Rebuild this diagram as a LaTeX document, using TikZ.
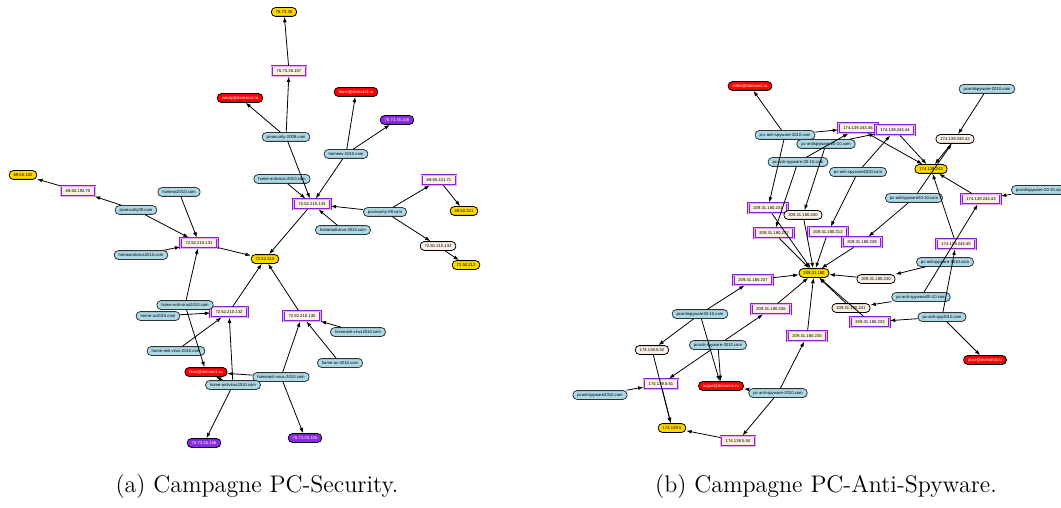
\documentclass[tikz,border=0pt]{standalone}
\usepackage{fontspec}
\newfontfamily\nodefont{Liberation Sans}
\usetikzlibrary{arrows.meta}
\definecolor{gold}{HTML}{FFD700}
\definecolor{lblue}{HTML}{ADD8E6}
\definecolor{violetx}{HTML}{8A2BE2}
\definecolor{linenx}{HTML}{FAF0E6}
\definecolor{purp}{HTML}{A020F0}
\tikzset{
  base/.style={font=\nodefont\fontsize{2.1}{2.5}\selectfont, inner xsep=2.2pt, inner ysep=0pt, minimum height=4.4pt, line width=0.4pt},
  ynode/.style={base, rounded corners=2pt, draw=black, fill=gold},
  dnode/.style={base, rounded corners=2pt, draw=black!80, fill=lblue},
  rnode/.style={base, rounded corners=2pt, draw=black, fill=red, text=white},
  vnode/.style={base, rounded corners=2pt, draw=black, fill=violetx, text=white},
  bnode/.style={base, rounded corners=2pt, draw=black, fill=linenx},
  pnode/.style={base, draw=purp!90!black, double=purp!35, double distance=0.45pt, line width=0.45pt, fill=linenx, minimum height=5pt, inner xsep=2.4pt},
  conn/.style={-{Latex[length=2.7pt,width=1.9pt]}, line width=0.4pt},
  capt/.style={font=\fontsize{12}{14}\selectfont}
}
\begin{document}
\begin{tikzpicture}[x=0.5pt,y=-0.5pt]
\useasboundingbox (0,0) rectangle (1061,508);
\clip (0,0) rectangle (1061,508);
% ---------------- left graph ----------------
\node[ynode] (n76) at (284,12) {76.73.35};
\node[ynode] (n69a) at (23,175) {69.50.192};
\node[ynode] (n72) at (265,259) {72.52.210};
\node[ynode] (n69b) at (464,211) {69.50.221};
\node[ynode] (n72b) at (466,265) {72.50.212};
\node[pnode] (p157) at (289,71) {76.73.35.157};
\node[pnode] (p70) at (78,191) {69.50.192.70};
\node[pnode] (p131) at (199,243) {72.52.210.131};
\node[pnode] (p133) at (312,204) {72.52.210.133};
\node[pnode] (p71) at (439,180) {69.50.221.71};
\node[pnode] (p132) at (229,312) {72.52.210.132};
\node[pnode] (p130) at (302,316) {72.52.210.130};
\node[bnode] (b133) at (438,246) {72.50.210.133};
\node[rnode] (candy) at (240,98) {candy@domain2.ru};
\node[rnode] (fours) at (356,92) {fours@domain3.ru};
\node[rnode] (blair) at (206,372) {blair@domain1.ru};
\node[vnode] (v158) at (397,120) {76.73.35.158};
\node[vnode] (v156) at (204,443) {76.73.35.156};
\node[vnode] (v155) at (305,438) {76.73.35.155};
\node[dnode] (d1) at (286,137) {pcsecurity-2009.com};
\node[dnode] (d2) at (346,154) {homeav-2010.com};
\node[dnode] (d3) at (282,179) {home-antivirus-2010.com};
\node[dnode] (d4) at (385,212) {pcsecurity-09.com};
\node[dnode] (d5) at (343,230) {homeantivirus-2010.com};
\node[dnode] (d6) at (179,192) {homeav2010.com};
\node[dnode] (d7) at (136,210) {pcsecurity09.com};
\node[dnode] (d8) at (141,255) {homeantivirus2010.com};
\node[dnode] (d9) at (185,305) {home-anti-virus2010.com};
\node[dnode] (d10) at (158,316) {home-av2010.com};
\node[dnode] (d11) at (176,351) {home-anti-virus-2010.com};
\node[dnode] (d12) at (358,332) {homeanti-virus2010.com};
\node[dnode] (d13) at (340,363) {home-av-2010.com};
\node[dnode] (d14) at (281,377) {homeanti-virus-2010.com};
\node[dnode] (d15) at (233,385) {home-antivirus2010.com};
\foreach \a/\b in {p157/n76,d1/p157,d1/candy,d1/p133,d2/fours,d2/v158,d2/p133,d3/p133,d4/p133,d4/p71,d4/b133,d5/p133,p133/n72,p71/n69b,b133/n72b,d7/p70,p70/n69a,d7/p131,d6/p131,d8/p131,p131/n72,d9/p131,d9/blair,d10/p132,d11/p132,p132/n72,d15/p132,d15/v156,d15/blair,d14/blair,d14/p130,d14/v155,d12/p130,d13/p130,p130/n72}
  \draw[conn] (\a) -- (\b);
% ---------------- right graph ----------------
\node[ynode] (y243) at (931,169) {174.139.243};
\node[ynode] (y209) at (814,273) {209.31.180};
\node[ynode] (y5) at (672,428) {174.139.5};
\node[rnode] (stiles) at (750,86) {stiles@domain2.ru};
\node[rnode] (argue) at (721,386) {argue@domain1.ru};
\node[rnode] (pixie) at (985,360) {pixie@domain3.ru};
\node[pnode] (q46) at (858,128) {174.139.243.46};
\node[pnode] (q44) at (895,130) {174.139.243.44};
\node[pnode] (q43) at (981,199) {174.139.243.43};
\node[pnode] (q45) at (956,244) {174.139.243.45};
\node[pnode] (q231) at (768,208) {209.31.180.231};
\node[pnode] (q242) at (774,233) {209.31.180.242};
\node[pnode] (q212) at (828,232) {209.31.180.212};
\node[pnode] (q238) at (862,242) {209.31.180.238};
\node[pnode] (q237) at (753,280) {209.31.180.237};
\node[pnode] (q236) at (771,309) {209.31.180.236};
\node[pnode] (q235) at (807,336) {209.31.180.235};
\node[pnode] (q233) at (870,322) {209.31.180.233};
\node[pnode] (q51) at (661,384) {174.139.5.51};
\node[pnode] (q50) at (738,441) {174.139.5.50};
\node[bnode] (c42) at (955,139) {174.139.243.42};
\node[bnode] (c240) at (803,215) {209.31.180.240};
\node[bnode] (c230) at (876,279) {209.31.180.230};
\node[bnode] (c241) at (851,308) {209.31.180.241};
\node[bnode] (c52) at (652,350) {174.139.5.52};
\node[dnode] (e1) at (987,89) {pcantispyware-2010.com};
\node[dnode] (e2) at (785,135) {p-c-anti-spyware-2010.com};
\node[dnode] (e3) at (826,144) {pc-antispyware-20-10.com};
\node[dnode] (e4) at (798,162) {pc-anti-spyware-20-10.com};
\node[dnode] (e5) at (858,172) {pc-anti-spyware2020.com};
\node[dnode] (e6) at (914,198) {pc-antispyware20-10.com};
\node[dnode] (e7) at (1040,190) {pcantispyware-20-10.com};
\node[dnode] (e8) at (945,262) {pc-antispyware-2010.com};
\node[dnode] (e9) at (921,297) {pc-anti-spyware20-10.com};
\node[dnode] (e10) at (942,317) {pc-anti-spy2010.com};
\node[dnode] (e11) at (700,314) {pcantispyware20-10.com};
\node[dnode] (e12) at (718,345) {pcanti-spyware-2010.com};
\node[dnode] (e13) at (600,395) {pcantispyware2010.com};
\node[dnode] (e14) at (778,393) {pc-anti-spyware-2010.com};
\foreach \a/\b in {e2/stiles,e2/q46,e4/q46,e5/q44,e3/q44,q46/y243,q44/y243,e1/c42,c42/y243,e6/c42,e6/q238,e7/q43,q43/y243,e9/q43,e10/q45,q45/y243,e2/q231,e4/q242,e3/c240,e5/q212,q231/y209,q242/y209,c240/y209,q212/y209,q238/y209,q237/y209,q236/y209,q235/y209,c230/y209,c241/y209,q233/y209,e8/c230,e9/c241,e10/q233,e10/pixie,e11/q237,e11/c52,e11/argue,e12/argue,e12/q51,e12/q236,e13/q51,q51/y5,c52/y5,q50/y5,e14/q50,e14/q235,e14/argue}
  \draw[conn] (\a) -- (\b);
% ---------------- captions ----------------
\node[capt] (capa) at (257,487) {(a) Campagne PC-Security.};
\node[capt] (capb) at (826,487) {(b) Campagne PC-Anti-Spyware.};
\end{tikzpicture}
\end{document}
